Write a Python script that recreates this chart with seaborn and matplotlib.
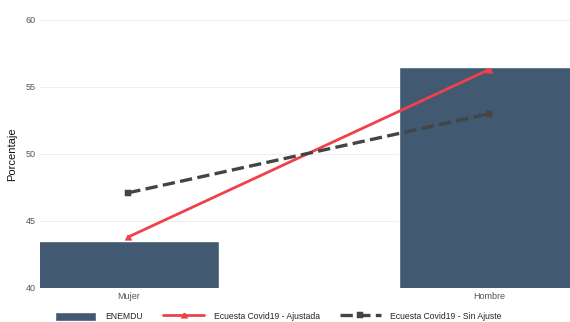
import matplotlib
matplotlib.use("Agg")
import matplotlib.pyplot as plt
import seaborn as sns

# Data
sexo = ["Mujer", "Hombre"]
enemdu = [43.5, 56.5]
covid_ajustada = [43.8, 56.3]
covid_sin_ajuste = [47.1, 53.0]

sns.set_style("white")
plt.rcParams["font.family"] = ["Liberation Sans", "DejaVu Sans"]

fig = plt.figure(figsize=(5.7, 3.22), dpi=100)
ax = fig.add_axes([0.07, 0.106, 0.94, 0.832])

sns.barplot(x=sexo, y=enemdu, color="#415a72", width=0.5, saturation=1,
            label="ENEMDU", ax=ax)
sns.pointplot(x=sexo, y=covid_ajustada, color="#f0404a", markers="^",
              linestyles="-", markersize=3, linewidth=2,
              label="Ecuesta Covid19 - Ajustada", ax=ax)
sns.pointplot(x=sexo, y=covid_sin_ajuste, color="#444444", markers="s",
              linestyles="--", markersize=3, linewidth=2.4,
              label="Ecuesta Covid19 - Sin Ajuste", ax=ax)

ax.set_ylim(40, 60)
ax.set_xlim(-0.245, 1.24)
ax.set_yticks([40, 45, 50, 55, 60])
ax.yaxis.grid(True, color="#eeeeee", linewidth=0.8)
ax.set_axisbelow(True)
sns.despine(ax=ax, left=True, bottom=True)
ax.tick_params(axis="both", labelsize=6.5, colors="#555555", length=0, pad=3)
ax.set_xlabel("")
ax.set_ylabel("Porcentaje", fontsize=8, color="#111111", labelpad=6)

handles, labels = ax.get_legend_handles_labels()
order = [labels.index("ENEMDU"), labels.index("Ecuesta Covid19 - Ajustada"),
         labels.index("Ecuesta Covid19 - Sin Ajuste")]
ax.legend([handles[i] for i in order], [labels[i] for i in order],
          loc="upper center", bbox_to_anchor=(0.445, -0.06), ncol=3,
          frameon=False, fontsize=6.2, handlelength=4.8, handleheight=1.3,
          columnspacing=2.3, handletextpad=1.1)

fig.savefig("out.png", dpi=100)
